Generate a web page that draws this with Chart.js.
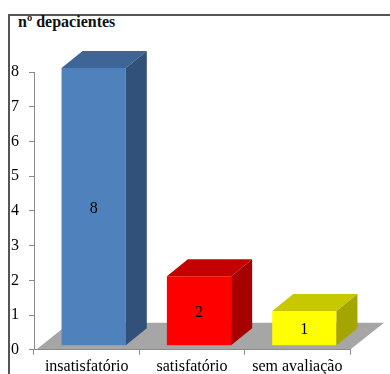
<!DOCTYPE html>
<html>
<head>
<meta charset="utf-8">
<script src="https://cdn.jsdelivr.net/npm/chart.js@4/dist/chart.umd.min.js"></script>
<style>
  html, body { margin: 0; padding: 0; background: #fff; }
  #wrap { position: relative; width: 390px; height: 374px; overflow: hidden; }
  #frame {
    position: absolute; left: 8px; top: 14px; right: -4px; bottom: -4px;
    border-left: 2px solid #555; border-top: 2px solid #555;
  }
  #title {
    position: absolute; left: 18px; top: 13px;
    font: bold 16px "Times New Roman", Times, "Liberation Serif", "DejaVu Serif", "Noto Serif", serif;
    color: #111;
  }
  canvas { position: absolute; left: 0; top: 0; }
</style>
</head>
<body>
<div id="wrap">
  <div id="frame"></div>
  <div id="title">nº depacientes</div>
  <canvas id="chart" width="390" height="374"></canvas>
</div>
<script>
const categories = ["insatisfatório", "satisfatório", "sem avaliação"];
const patients = [8, 2, 1];
const yTicks = [0, 1, 2, 3, 4, 5, 6, 7, 8];

// front / top / side shades for each bar
const frontColors = ["#4f81bd", "#ff0000", "#ffff00"];
const topColors = ["#3d6595", "#c40000", "#c8c800"];
const sideColors = ["#31507a", "#a60000", "#a5a500"];

const SERIF = "'Times New Roman', Times, 'Liberation Serif', 'DejaVu Serif', 'Noto Serif', serif";
const SHIFT = { x: 7, y: -4 };   // bar front sits a little into the floor
const DEPTH = { x: 21, y: -17 }; // bar extrusion
const FLOOR = { x: 34, y: -27 }; // floor depth

const bars3d = {
  id: "bars3d",
  beforeDraw(chart) {
    const { ctx, chartArea } = chart;
    const yb = chart.scales.y.getPixelForValue(0);
    const xl = chartArea.left + 2, xr = chartArea.right;
    ctx.save();
    ctx.fillStyle = "#a6a6a6";
    ctx.beginPath();
    ctx.moveTo(xl, yb);
    ctx.lineTo(xr, yb);
    ctx.lineTo(xr + FLOOR.x, yb + FLOOR.y);
    ctx.lineTo(xl + FLOOR.x, yb + FLOOR.y);
    ctx.closePath();
    ctx.fill();
    ctx.restore();
  },
  beforeDatasetDraw(chart) {
    chart.ctx.save();
    chart.ctx.translate(SHIFT.x, SHIFT.y);
  },
  afterDatasetDraw(chart, args) {
    const ctx = chart.ctx;
    args.meta.data.forEach((bar, i) => {
      const { x, y, base, width } = bar.getProps(["x", "y", "base", "width"], true);
      const l = x - width / 2, r = x + width / 2;
      ctx.fillStyle = topColors[i];
      ctx.beginPath();
      ctx.moveTo(l, y);
      ctx.lineTo(l + DEPTH.x, y + DEPTH.y);
      ctx.lineTo(r + DEPTH.x, y + DEPTH.y);
      ctx.lineTo(r, y);
      ctx.closePath();
      ctx.fill();
      ctx.fillStyle = sideColors[i];
      ctx.beginPath();
      ctx.moveTo(r, y);
      ctx.lineTo(r + DEPTH.x, y + DEPTH.y);
      ctx.lineTo(r + DEPTH.x, base + DEPTH.y);
      ctx.lineTo(r, base);
      ctx.closePath();
      ctx.fill();
      // value label in the middle of the front face
      ctx.fillStyle = "#000";
      ctx.font = "16px " + SERIF;
      ctx.textAlign = "center";
      ctx.textBaseline = "middle";
      ctx.fillText(String(patients[i]), x, (y + base) / 2 + 2);
    });
    ctx.restore();
  },
};

new Chart(document.getElementById("chart"), {
  type: "bar",
  data: {
    labels: categories,
    datasets: [{
      data: patients,
      backgroundColor: frontColors,
      borderWidth: 0,
      categoryPercentage: 1,
      barPercentage: 0.61,
    }],
  },
  options: {
    responsive: false,
    animation: false,
    events: [],
    layout: { padding: { left: 1, top: 72, right: 40, bottom: -4 } },
    plugins: { legend: { display: false }, tooltip: { enabled: false } },
    scales: {
      x: {
        grid: { drawOnChartArea: false, tickLength: 5, color: "#8a8a8a" },
        border: { color: "#8a8a8a", width: 1 },
        ticks: { color: "#000", font: { family: SERIF, size: 16 }, padding: 2 },
      },
      y: {
        min: 0,
        max: 8,
        afterBuildTicks: (scale) => { scale.ticks = yTicks.map((v) => ({ value: v })); },
        grid: { drawOnChartArea: false, tickLength: 5, color: "#8a8a8a" },
        border: { color: "#8a8a8a", width: 1 },
        ticks: { color: "#000", font: { family: SERIF, size: 16 }, padding: 10 },
      },
    },
  },
  plugins: [bars3d],
});
</script>
</body>
</html>
